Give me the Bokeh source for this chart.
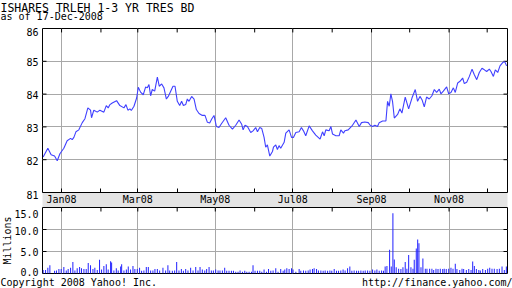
import math
import pandas as pd
from bokeh.plotting import figure
from bokeh.layouts import column, row
from bokeh.models import FixedTicker, DatetimeTickFormatter, Range1d
from bokeh.core.properties import value
from bokeh.embed import file_html
from bokeh.resources import INLINE

# ---------------- data ----------------
title_line1 = "ISHARES TRLEH 1-3 YR TRES BD"
title_line2 = "as of 17-Dec-2008"
footer_left = "Copyright 2008 Yahoo! Inc."
footer_right = "http://finance.yahoo.com/"
volume_axis_title = "Millions"

start_date = "2007-12-17"
end_date = "2008-12-17"
major_months = ["2008-01-01", "2008-03-01", "2008-05-01", "2008-07-01", "2008-09-01", "2008-11-01"]
minor_months = ["2008-02-01", "2008-04-01", "2008-06-01", "2008-08-01", "2008-10-01", "2008-12-01"]
price_ticks = [81, 82, 83, 84, 85, 86]
volume_ticks = [0, 5, 10, 15]

# days after start_date, closing price
price_day = [0.5, 4.2, 6.8, 9.5, 11.6, 13.7, 16.8, 19.4, 22.1, 23.4, 24.7, 26.3, 28.6, 31.3, 33.4,
             35.7, 37.8, 38.6, 40.4, 43.1, 45.2, 48.3, 50.2, 51.7, 53.1, 54.9, 58.3, 60.9, 64.1,
             65.7, 67.2, 68.8, 69.9, 72.0, 74.1, 75.4, 77.2, 79.3, 81.2, 82.5, 83.8, 85.1, 86.4,
             88.3, 90.4, 91.9, 93.8, 95.6, 97.5, 99.0, 100.9, 102.7, 104.3, 106.1, 108.0, 109.5,
             110.9, 112.7, 114.0, 115.3, 117.4, 119.3, 121.1, 123.2, 125.8, 127.9, 129.8, 131.6,
             133.2, 135.0, 136.9, 138.9, 141.1, 144.2, 146.8, 149.5, 152.1, 154.7, 156.8, 157.9,
             159.4, 161.3, 163.9, 165.7, 167.8, 169.2, 171.0, 172.6, 174.4, 175.7, 177.0, 178.9,
             181.0, 181.8, 183.6, 184.9, 186.2, 187.5, 190.2, 191.5, 194.1, 196.0, 197.5, 199.4,
             202.0, 203.8, 205.4, 207.2, 209.9, 212.5, 215.1, 218.5, 220.4, 221.7, 223.0, 225.6,
             227.0, 228.3, 230.9, 233.5, 234.8, 236.9, 238.0, 240.6, 244.0, 246.7, 249.3, 251.1,
             253.7, 256.4, 257.9, 259.8, 261.6, 263.7, 265.0, 267.7, 270.3, 271.6, 272.9, 274.2,
             275.5, 276.9, 279.5, 281.3, 282.9, 285.5, 288.2, 290.8, 293.4, 295.2, 297.1, 298.7,
             300.5, 302.3, 304.4, 306.5, 308.4, 310.2, 312.3, 313.6, 315.5, 318.1, 319.7, 321.5,
             323.4, 324.9, 326.8, 328.6, 330.7, 332.0, 333.9, 336.0, 338.1, 339.9, 341.8, 343.8,
             345.9, 347.8, 349.6, 351.7, 353.0, 354.9, 356.4, 358.3, 360.1, 362.2, 363.8, 365.3]
price_close = [82.08, 82.35, 82.15, 82.11, 81.97, 82.18, 82.35, 82.58, 82.65, 82.61, 82.68, 82.85,
               82.91, 83.13, 83.25, 83.58, 83.51, 83.28, 83.51, 83.45, 83.51, 83.45, 83.65, 83.58,
               83.68, 83.73, 83.80, 83.65, 83.58, 83.68, 83.51, 83.55, 83.50, 83.63, 83.88, 84.21,
               84.06, 83.98, 84.22, 84.19, 84.29, 83.95, 84.14, 84.09, 84.52, 84.24, 84.31, 84.19,
               83.85, 83.93, 84.09, 84.24, 84.24, 83.78, 83.65, 83.78, 83.65, 83.68, 83.85, 83.78,
               83.93, 83.85, 83.53, 83.41, 83.35, 83.35, 83.14, 83.12, 83.24, 83.35, 83.01, 82.98,
               83.11, 83.28, 83.05, 82.93, 83.05, 83.21, 83.08, 82.91, 83.05, 83.01, 82.83, 82.88,
               82.98, 82.85, 82.98, 82.95, 82.68, 82.38, 82.45, 82.11, 82.25, 82.38, 82.45, 82.31,
               82.43, 82.35, 82.53, 82.81, 82.91, 82.68, 82.68, 82.83, 82.85, 82.98, 82.88, 82.73,
               83.03, 82.88, 82.75, 82.63, 82.85, 82.73, 82.91, 82.88, 83.01, 82.78, 82.73, 82.73,
               82.91, 82.81, 82.88, 82.91, 83.05, 83.21, 83.01, 83.13, 83.15, 83.13, 83.05, 83.01,
               83.05, 83.01, 83.13, 83.18, 83.18, 83.78, 83.63, 84.01, 83.78, 83.27, 83.38, 83.55,
               83.42, 83.91, 83.55, 83.88, 84.14, 83.78, 83.93, 83.83, 83.61, 83.91, 83.85, 83.95,
               84.14, 84.05, 84.15, 84.01, 84.09, 84.22, 84.01, 84.05, 84.19, 84.05, 84.34, 84.39,
               84.49, 84.32, 84.36, 84.54, 84.76, 84.59, 84.44, 84.66, 84.79, 84.74, 84.69, 84.76,
               84.69, 84.54, 84.74, 84.66, 84.86, 84.96, 84.99, 84.86]

# days after start_date, volume in millions
volume_day = [0.5, 2.4, 4.2, 5.8, 9.5, 11.0, 12.9, 14.7, 16.8, 18.7, 20.2, 22.1, 23.9, 25.5, 27.3,
              29.2, 30.7, 32.6, 34.4, 36.0, 37.8, 39.7, 41.2, 43.1, 44.9, 46.5, 48.3, 50.2, 51.7,
              53.6, 54.4, 56.2, 58.1, 59.6, 61.5, 62.3, 64.1, 66.0, 67.5, 69.3, 71.2, 72.7, 74.6,
              76.4, 78.0, 79.8, 81.7, 83.3, 85.1, 86.9, 88.5, 90.4, 92.2, 94.8, 96.9, 98.7, 100.1,
              102.2, 104.0, 105.6, 107.4, 109.3, 110.9, 112.7, 114.5, 116.6, 118.5, 120.6, 122.4,
              124.0, 125.8, 127.7, 129.2, 131.1, 132.9, 134.5, 136.3, 138.2, 139.7, 141.6, 143.4,
              145.0, 146.8, 148.7, 150.3, 152.1, 153.9, 155.5, 157.4, 159.2, 160.8, 162.6, 164.5,
              165.7, 167.3, 169.2, 171.0, 172.6, 174.4, 176.3, 177.9, 179.7, 181.5, 183.6, 185.4,
              187.5, 189.4, 190.7, 192.3, 194.1, 196.0, 197.2, 199.4, 202.0, 203.3, 205.4, 207.2,
              209.1, 210.6, 212.5, 213.8, 215.7, 217.2, 219.1, 220.9, 222.5, 224.4, 226.2, 227.7,
              229.6, 231.4, 233.0, 234.8, 236.6, 238.2, 240.1, 241.9, 243.5, 245.3, 247.2, 248.8,
              250.6, 252.4, 254.0, 255.9, 257.7, 259.8, 261.6, 263.2, 265.0, 266.9, 268.4, 269.7,
              271.1, 273.2, 274.5, 275.8, 276.9, 278.4, 280.3, 282.1, 283.7, 285.5, 286.8, 288.2,
              290.0, 291.6, 292.6, 294.2, 295.3, 296.3, 297.9, 299.4, 301.3, 302.6, 304.7, 306.5,
              307.9, 309.7, 311.3, 313.1, 315.0, 316.2, 317.8, 319.7, 321.5, 323.1, 324.9, 326.2,
              328.4, 330.2, 331.5, 333.6, 335.5, 337.3, 338.6, 339.9, 341.5, 343.4, 344.6, 346.5,
              348.6, 350.4, 352.0, 353.8, 355.6, 357.8, 359.6, 361.7, 363.5, 365.1]
volume_millions = [0.8, 0.8, 1.3, 1.9, 0.6, 0.7, 1.0, 1.0, 1.5, 0.7, 1.0, 1.3, 2.6, 0.7, 1.2, 1.5,
                   1.2, 1.0, 1.0, 2.4, 1.9, 1.0, 1.3, 0.8, 3.1, 0.9, 1.7, 2.1, 0.9, 2.8, 2.5, 0.7,
                   1.2, 0.7, 1.6, 2.1, 0.7, 0.9, 1.6, 0.9, 1.7, 1.0, 1.0, 1.3, 0.6, 0.7, 1.5, 1.5,
                   0.7, 0.7, 1.0, 1.0, 0.7, 1.3, 0.7, 1.9, 0.7, 0.6, 0.7, 2.6, 0.7, 1.0, 0.6, 1.0,
                   0.7, 1.3, 0.7, 1.5, 0.7, 1.5, 0.9, 0.7, 1.0, 1.5, 0.7, 0.7, 0.9, 0.7, 0.7, 0.7,
                   1.3, 0.6, 0.6, 0.6, 0.6, 0.4, 0.4, 0.7, 0.4, 0.6, 0.4, 0.4, 0.4, 1.9, 0.6, 0.6,
                   0.6, 0.4, 0.9, 0.4, 1.0, 0.6, 0.7, 1.2, 0.4, 1.0, 0.6, 0.9, 1.2, 1.0, 1.2, 0.9,
                   0.4, 1.0, 0.6, 0.7, 0.6, 0.7, 0.9, 1.0, 1.2, 1.0, 0.7, 0.7, 0.6, 0.7, 0.6, 0.7,
                   0.6, 1.0, 0.6, 0.6, 0.7, 0.9, 0.7, 1.2, 1.6, 0.6, 0.7, 0.6, 0.6, 0.7, 0.6, 0.7,
                   0.7, 0.6, 0.9, 0.7, 0.9, 0.6, 0.7, 0.6, 1.6, 1.7, 5.4, 1.6, 13.7, 3.2, 1.4, 1.1,
                   1.0, 1.4, 2.6, 1.1, 4.2, 1.4, 1.1, 3.1, 5.7, 7.7, 6.9, 1.4, 3.4, 1.1, 1.1, 1.1,
                   1.1, 0.8, 1.1, 1.0, 1.1, 1.0, 1.1, 1.0, 1.1, 1.3, 1.1, 2.2, 1.0, 0.8, 1.1, 1.0,
                   0.8, 1.0, 0.8, 2.7, 1.7, 1.0, 0.8, 0.7, 1.0, 0.8, 1.1, 1.3, 1.1, 1.1, 1.0, 1.1,
                   1.6, 0.8, 1.6]

# ---------------- styles / geometry ----------------
FONT = "DejaVu Sans Mono"
GRID = "#a8a8a8"
LINE = "#4040ff"
BAR = "#2424ff"
BAND = "#e4e4e4"

W = 512
HEAD_H = 22
P_TOP = 6
P_FRAME_H = 166
BAND_H = 13
V_FRAME_H = 66
V_BOTTOM = 3
FOOT_H = 288 - (HEAD_H + P_TOP + P_FRAME_H + BAND_H + V_FRAME_H + V_BOTTOM)
GUT_W = 41
RIGHT_PAD = 5
FRAME_W = W - GUT_W - 1 - RIGHT_PAD
TICK = 4
price_label_dy = [0, 0, 0, 0, 0, 3]
volume_label_dy = [-2, 0.5, 1, 6]
HEAD_LINE_Y = [7, 16]      # text centres inside the header strip
FOOT_LINE_Y = 5.5          # text centre inside the footer strip

# ---------------- derived ----------------
t0 = pd.Timestamp(start_date)
t1 = pd.Timestamp(end_date)
price_x = t0 + pd.to_timedelta(price_day, unit="D")
volume_x = t0 + pd.to_timedelta(volume_day, unit="D")
major_dt = pd.to_datetime(major_months)
minor_dt = pd.to_datetime(minor_months)
all_months = major_dt.append(minor_dt)
major_ms = [d.value / 1e6 for d in major_dt]
minor_ms = [d.value / 1e6 for d in minor_dt]

p_lo, p_hi = price_ticks[0], price_ticks[-1]
v_lo, v_hi = volume_ticks[0], volume_ticks[-1]
price_grid = price_ticks[1:-1]
volume_grid = volume_ticks[1:-1]

span_days = (t1 - t0) / pd.Timedelta(days=1)
tick_dx = pd.Timedelta(days=TICK * span_days / FRAME_W)
tick_dp = TICK * (p_hi - p_lo) / P_FRAME_H
tick_dv = TICK * (v_hi - v_lo) / V_FRAME_H

fmt_str = "%b%y"
dfmt = DatetimeTickFormatter(milliseconds=fmt_str, seconds=fmt_str, minsec=fmt_str, minutes=fmt_str,
                             hourmin=fmt_str, hours=fmt_str, days=fmt_str, months=fmt_str,
                             years=fmt_str)
xr = Range1d(t0, t1)


def blank(width, height, xr_, yr_):
    f = figure(width=width, height=height, x_range=xr_, y_range=yr_, title=None,
               x_axis_location=None, y_axis_location=None, output_backend="svg",
               toolbar_location=None, min_border=0, outline_line_color=None,
               background_fill_color="white", border_fill_color="white")
    f.grid.visible = False
    return f


def frame_ticks(f, top_val, tick_len_y, side_vals):
    n = len(all_months)
    f.segment(x0=all_months, y0=[top_val] * n, x1=all_months, y1=[top_val - tick_len_y] * n,
              line_color="black", line_width=1)
    k = len(side_vals)
    f.segment(x0=pd.DatetimeIndex([t0] * k), y0=side_vals, x1=pd.DatetimeIndex([t0 + tick_dx] * k),
              y1=side_vals, line_color="black", line_width=1)
    f.segment(x0=pd.DatetimeIndex([t1 - tick_dx] * k), y0=side_vals, x1=pd.DatetimeIndex([t1] * k),
              y1=side_vals, line_color="black", line_width=1)


# ---------------- header ----------------
head = blank(W, HEAD_H, Range1d(0, W), Range1d(HEAD_H, 0))
head.text(x=[0], y=[HEAD_LINE_Y[0]], text=[title_line1], text_font=value(FONT), text_font_size="11.5px",
          text_align="left", text_baseline="middle", text_color="black")
head.text(x=[0], y=[HEAD_LINE_Y[1]], text=[title_line2], text_font=value(FONT), text_font_size="10px",
          text_align="left", text_baseline="middle", text_color="black")

# ---------------- price panel ----------------
p = figure(width=W - GUT_W, height=P_TOP + P_FRAME_H + BAND_H, x_range=xr, y_range=Range1d(p_lo, p_hi),
           x_axis_type="datetime", x_axis_location="below", y_axis_location=None, title=None,
           output_backend="svg", toolbar_location=None,
           min_border_left=1, min_border_right=RIGHT_PAD, min_border_top=P_TOP, min_border_bottom=BAND_H,
           outline_line_color="black", outline_line_width=1,
           background_fill_color="white", border_fill_color="white")
xa = p.xaxis[0]
xa.ticker = FixedTicker(ticks=major_ms, minor_ticks=minor_ms)
xa.formatter = dfmt
xa.major_tick_in = TICK
xa.major_tick_out = 0
xa.minor_tick_in = TICK
xa.minor_tick_out = 0
xa.major_tick_line_color = "black"
xa.minor_tick_line_color = "black"
xa.axis_line_color = "black"
xa.major_label_standoff = 1
xa.major_label_text_font = FONT
xa.major_label_text_font_size = "10px"
xa.major_label_text_color = "black"
xa.background_fill_color = BAND

p.xgrid.ticker = FixedTicker(ticks=major_ms)
p.ygrid.ticker = FixedTicker(ticks=price_grid)
p.grid.grid_line_color = GRID
p.grid.grid_line_width = 1

frame_ticks(p, p_hi, tick_dp, price_grid)
p.line(price_x, price_close, line_color=LINE, line_width=1.1)

# ---------------- volume panel ----------------
v = figure(width=W - GUT_W, height=V_FRAME_H + V_BOTTOM, x_range=xr, y_range=Range1d(v_lo, v_hi),
           x_axis_type="datetime", x_axis_location=None, y_axis_location=None, title=None,
           output_backend="svg", toolbar_location=None,
           min_border_left=1, min_border_right=RIGHT_PAD, min_border_top=0, min_border_bottom=V_BOTTOM,
           outline_line_color="black", outline_line_width=1,
           background_fill_color="white", border_fill_color="white")
v.xgrid.ticker = FixedTicker(ticks=major_ms)
v.ygrid.ticker = FixedTicker(ticks=volume_grid)
v.grid.grid_line_color = GRID
v.grid.grid_line_width = 1

v.vbar(x=volume_x, top=volume_millions, bottom=0, width=0.8 * 86400000,
       fill_color=BAR, line_color=None)
frame_ticks(v, v_hi, tick_dv, volume_grid)

# ---------------- left label gutter (same scales as the panels) ----------------
gut_h = P_TOP + P_FRAME_H + BAND_H + V_FRAME_H + V_BOTTOM
pp = (p_hi - p_lo) / P_FRAME_H
vp = (v_hi - v_lo) / V_FRAME_H
g_p_hi = p_hi + P_TOP * pp
g_p_lo = p_lo - (BAND_H + V_FRAME_H + V_BOTTOM) * pp
g_v_hi = v_hi + (P_TOP + P_FRAME_H + BAND_H) * vp
g_v_lo = v_lo - V_BOTTOM * vp
gut = blank(GUT_W, gut_h, Range1d(0, GUT_W), Range1d(g_p_lo, g_p_hi))
gut.extra_y_ranges = {"vol": Range1d(g_v_lo, g_v_hi)}

gut.text(x=[GUT_W - 3] * len(price_ticks), y=price_ticks, text=[str(t) for t in price_ticks],
         y_offset=price_label_dy, text_font=value(FONT), text_font_size="10px",
         text_align="right", text_baseline="middle", text_color="black")
gut.text(x=[GUT_W - 3] * len(volume_ticks), y=volume_ticks, text=["%.1f" % t for t in volume_ticks],
         y_offset=volume_label_dy, y_range_name="vol", text_font=value(FONT), text_font_size="10px",
         text_align="right", text_baseline="middle", text_color="black")
gut.text(x=[7], y=[(v_lo + v_hi) / 2], text=[volume_axis_title], angle=math.pi / 2,
         y_range_name="vol", text_font=value(FONT), text_font_size="10px",
         text_align="center", text_baseline="middle", text_color="black")

# ---------------- footer ----------------
foot = blank(W, FOOT_H, Range1d(0, W), Range1d(FOOT_H, 0))
foot.text(x=[0], y=[FOOT_LINE_Y], text=[footer_left], text_font=value(FONT), text_font_size="10px",
          text_align="left", text_baseline="middle", text_color="black")
foot.text(x=[W], y=[FOOT_LINE_Y], text=[footer_right], text_font=value(FONT), text_font_size="10px",
          text_align="right", text_baseline="middle", text_color="black")

layout = column(head, row(gut, column(p, v, spacing=0), spacing=0), foot, spacing=0)
open("out.html", "w").write(file_html(layout, INLINE))
